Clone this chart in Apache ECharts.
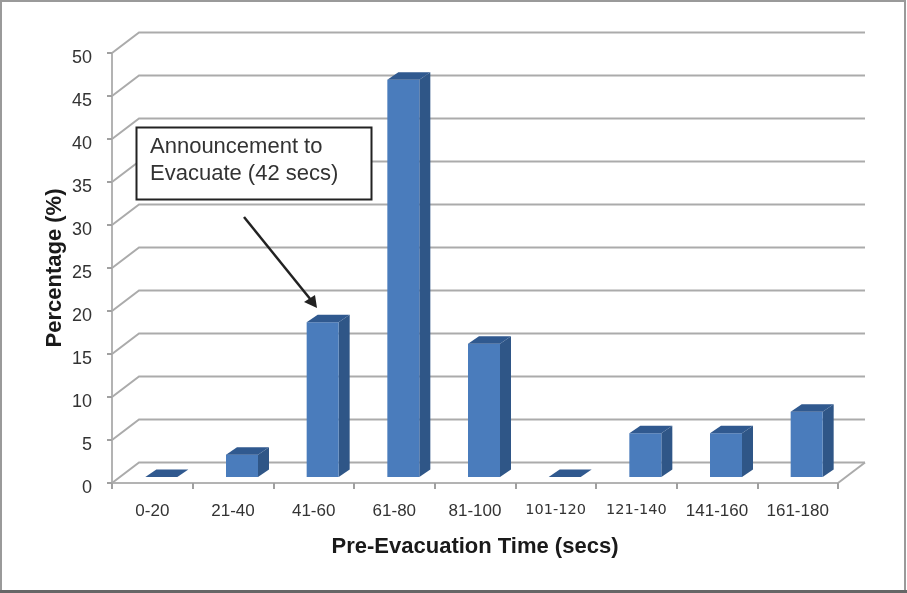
<!DOCTYPE html>
<html><head><meta charset="utf-8">
<style>html,body{margin:0;padding:0;background:#fff}#c{width:907px;height:593px;filter:blur(0.55px)}</style>
<script src="https://cdn.jsdelivr.net/npm/echarts@6/dist/echarts.min.js"></script>
</head><body><div id="c"></div>
<script>
const categories = ['0-20','21-40','41-60','61-80','81-100','101-120','121-140','141-160','161-180'];
const percentages = [0, 2.6, 18, 46.2, 15.5, 0, 5.1, 5.1, 7.6];
const yTicks = [0,5,10,15,20,25,30,35,40,45,50];

const wall = {dx:27, dy:-20.5};
const bar = {shiftX:9, shiftY:-6, width:32, dx:11, dy:-7.5};
const chart = echarts.init(document.getElementById('c'));
const labelStyle = {fontFamily:'Liberation Sans', fontSize:17, color:'#333'};
const oddStyle = {fontFamily:'DejaVu Sans', fontSize:14.5, color:'#333', padding:[0,0,6,0]};

chart.setOption({
  animation:false,
  backgroundColor:'#fff',
  grid:{left:112, right:69, top:53, bottom:110, containLabel:false},
  xAxis:{
    type:'category',
    data:categories.map(c=>({value:c, textStyle:(c==='101-120'||c==='121-140')?oddStyle:labelStyle})),
    axisLine:{lineStyle:{color:'#b3b3b3',width:2}},
    axisTick:{show:true,length:6,alignWithLabel:false,lineStyle:{color:'#a0a0a0',width:2}},
    axisLabel:{margin:20,interval:0},
    splitLine:{show:false},
    name:'Pre-Evacuation Time (secs)',
    nameLocation:'middle', nameGap:64,
    nameTextStyle:{fontFamily:'Liberation Sans',fontWeight:'bold',fontSize:22,color:'#1a1a1a',verticalAlign:'middle'}
  },
  yAxis:{
    type:'value', min:0, max:50, interval:5,
    axisLine:{show:true,lineStyle:{color:'#b3b3b3',width:2}},
    axisTick:{show:true,length:5,lineStyle:{color:'#a0a0a0',width:2}},
    axisLabel:{margin:20,fontFamily:'Liberation Sans',fontSize:18,color:'#333',verticalAlign:'top',lineHeight:10},
    splitLine:{show:false},
    name:'Percentage (%)',
    nameLocation:'middle', nameGap:57, nameMoveOverlap:false,
    nameTextStyle:{fontFamily:'Liberation Sans',fontWeight:'bold',fontSize:22,color:'#1a1a1a',verticalAlign:'middle'}
  },
  series:[
    { // back wall and floor lines
      type:'custom', coordinateSystem:'cartesian2d', silent:true, z:1,
      data:yTicks.map(v=>[0,v]),
      encode:{y:1},
      renderItem(params,api){
        const v=api.value(1);
        const a=api.coord([0,v]);
        const cs=params.coordSys;
        const x0=cs.x, xR=cs.x+cs.width;
        const children=[{type:'polyline',shape:{points:[[x0,a[1]],[x0+wall.dx,a[1]+wall.dy],[xR+wall.dx,a[1]+wall.dy]]},
          style:{fill:null,stroke:'#ababab',lineWidth:2}}];
        if(v===0) children.push({type:'line',shape:{x1:xR,y1:a[1],x2:xR+wall.dx,y2:a[1]+wall.dy},style:{stroke:'#ababab',lineWidth:2}});
        return {type:'group',children};
      }
    },
    { // 3D bars
      type:'custom', coordinateSystem:'cartesian2d', silent:true, z:3,
      data:percentages.map((v,i)=>[i,v]),
      encode:{x:0,y:1},
      renderItem(params,api){
        const i=api.value(0), v=api.value(1);
        const top=api.coord([i,v]), base=api.coord([i,0]);
        const xl=top[0]+bar.shiftX-bar.width/2, xr=xl+bar.width;
        const yt=top[1]+bar.shiftY, yb=base[1]+bar.shiftY;
        const children=[];
        if(v>0){
          children.push({type:'polygon',shape:{points:[[xr,yt],[xr+bar.dx,yt+bar.dy],[xr+bar.dx,yb+bar.dy],[xr,yb]]},style:{fill:'#2f5687'}});
          children.push({type:'rect',shape:{x:xl,y:yt,width:bar.width,height:yb-yt},style:{fill:'#4a7cbc'}});
        }
        children.push({type:'polygon',shape:{points:[[xl,yt],[xl+bar.dx,yt+bar.dy],[xr+bar.dx,yt+bar.dy],[xr,yt]]},style:{fill:'#30598f'}});
        return {type:'group',children};
      }
    }
  ],
  graphic:[
    {type:'rect',z:50,silent:true,shape:{x:1,y:1,width:904,height:590},style:{fill:null,stroke:'#9a9a9a',lineWidth:2}},
    {type:'line',z:51,silent:true,shape:{x1:0,y1:591.5,x2:907,y2:591.5},style:{stroke:'#666',lineWidth:3}},
    {type:'rect',z:60,silent:true,shape:{x:136.5,y:127.5,width:235,height:72},style:{fill:'#fff',stroke:'#222',lineWidth:2}},
    {type:'text',z:61,silent:true,x:150,y:133,style:{text:'Announcement to\nEvacuate (42 secs)',fontFamily:'Liberation Sans',fontSize:22,lineHeight:27,fill:'#333'}},
    {type:'line',z:61,silent:true,shape:{x1:244,y1:217,x2:311,y2:300},style:{stroke:'#222',lineWidth:2.5}},
    {type:'polygon',z:61,silent:true,shape:{points:[[317,308],[304,302],[315,295]]},style:{fill:'#222'}}
  ]
});
</script></body></html>
